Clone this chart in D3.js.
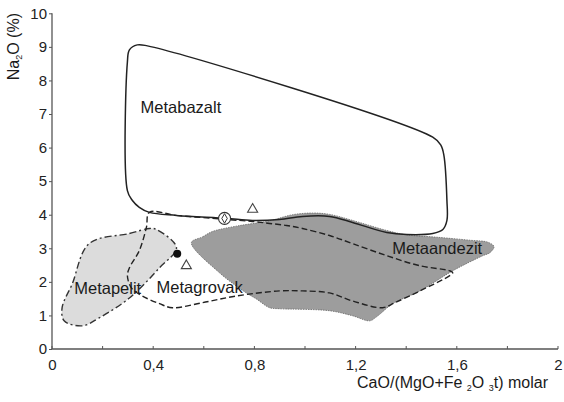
<!DOCTYPE html>
<html>
<head>
<meta charset="utf-8">
<script src="https://cdn.jsdelivr.net/npm/d3@7"></script>
<style>
  html, body { margin: 0; padding: 0; background: #fff; }
  svg { display: block; font-family: "Liberation Sans", Arial, sans-serif; }
</style>
</head>
<body>
<svg id="chart" width="564" height="402"></svg>
<script>
// ---- data (x = CaO/(MgO+Fe2O3t) molar, y = Na2O %) ----
const xTicks = [0, 0.4, 0.8, 1.2, 1.6, 2];
const xTickLabels = ["0", "0,4", "0,8", "1,2", "1,6", "2"];
const xMinorTicks = [0.2, 0.6, 1.0, 1.4, 1.8];
const yTicks = [0, 1, 2, 3, 4, 5, 6, 7, 8, 9, 10];

const metabazalt = [
  [0.298, 8.55], [0.306, 8.91], [0.337, 9.06], [0.377, 9.03], [1.505, 6.31],
  [1.537, 6.07], [1.549, 5.77], [1.561, 4.42], [1.561, 3.83], [1.545, 3.56],
  [1.505, 3.44], [1.402, 3.41], [1.323, 3.47], [1.188, 3.77], [1.097, 3.95],
  [0.990, 3.95], [0.899, 3.86], [0.792, 3.83], [0.689, 3.89], [0.492, 3.98],
  [0.385, 4.07], [0.345, 4.22], [0.317, 4.43], [0.298, 4.72]
];
const metaandezit = [
  [0.551, 3.17], [0.595, 3.34], [0.634, 3.50], [0.729, 3.66], [0.860, 3.82],
  [0.951, 4.00], [1.030, 4.05], [1.097, 4.01], [1.188, 3.83], [1.323, 3.53],
  [1.402, 3.40], [1.521, 3.33], [1.652, 3.24], [1.723, 3.18], [1.747, 3.05],
  [1.731, 2.87], [1.703, 2.78], [1.584, 2.33], [1.454, 1.73], [1.347, 1.35],
  [1.283, 0.96], [1.256, 0.84], [1.188, 0.99], [1.097, 1.14], [0.899, 1.20],
  [0.860, 1.23], [0.808, 1.49], [0.768, 1.67], [0.662, 2.27]
];
const metagrovak = [
  [0.385, 4.07], [0.492, 3.98], [0.689, 3.86], [0.792, 3.80], [0.860, 3.74],
  [0.927, 3.68], [0.990, 3.59], [1.097, 3.38], [1.188, 3.14], [1.323, 2.78],
  [1.454, 2.48], [1.572, 2.33], [1.584, 2.27], [1.454, 1.73], [1.355, 1.38],
  [1.307, 1.23], [1.188, 1.43], [1.097, 1.67], [0.990, 1.73], [0.899, 1.73],
  [0.729, 1.58], [0.595, 1.38], [0.476, 1.23], [0.425, 1.35], [0.357, 1.58],
  [0.314, 1.82], [0.298, 2.18], [0.306, 2.42], [0.345, 2.93], [0.373, 3.62]
];
const metapelit = [
  [0.147, 3.14], [0.306, 3.44], [0.385, 3.59], [0.413, 3.56], [0.492, 3.02],
  [0.425, 2.42], [0.306, 1.52], [0.187, 0.93], [0.120, 0.69], [0.048, 0.84],
  [0.040, 1.23], [0.080, 1.94]
];
const triangles = [[0.793, 4.16], [0.531, 2.48]];
const dots = [[0.495, 2.84]];
const circledDiamonds = [[0.682, 3.89]];

const regionLabels = [
  { name: "Metabazalt",  x: 0.35,  y: 7.2 },
  { name: "Metapelit",   x: 0.088, y: 1.8 },
  { name: "Metagrovak",  x: 0.413, y: 1.85 },
  { name: "Metaandezit", x: 1.345, y: 3.0 }
];

// ---- layout ----
const svg = d3.select("#chart");
const x = d3.scaleLinear().domain([0, 2]).range([52, 558]);
const y = d3.scaleLinear().domain([0, 10]).range([349, 13.3]);
const line = d3.line().x(d => x(d[0])).y(d => y(d[1])).curve(d3.curveCatmullRomClosed.alpha(0.5));

// regions
svg.append("path").datum(metapelit)
  .attr("d", line).attr("fill", "#dcdcdc")
  .attr("stroke", "#333").attr("stroke-width", 1.4)
  .attr("stroke-dasharray", "7,3,2,3");

svg.append("path").datum(metaandezit)
  .attr("d", line).attr("fill", "#9d9d9d")
  .attr("stroke", "#666").attr("stroke-width", 0.8)
  .attr("stroke-dasharray", "1.5,1");

svg.append("path").datum(metabazalt)
  .attr("d", line).attr("fill", "none")
  .attr("stroke", "#222").attr("stroke-width", 1.5);

svg.append("path").datum(metagrovak)
  .attr("d", line).attr("fill", "none")
  .attr("stroke", "#222").attr("stroke-width", 1.4)
  .attr("stroke-dasharray", "6,3");

// markers
svg.selectAll(".tri").data(triangles).enter().append("path")
  .attr("class", "tri")
  .attr("transform", d => `translate(${x(d[0])},${y(d[1])})`)
  .attr("d", d3.symbol().type(d3.symbolTriangle).size(44))
  .attr("fill", "#fff").attr("stroke", "#444").attr("stroke-width", 1.1);

svg.selectAll(".dot").data(dots).enter().append("circle")
  .attr("class", "dot")
  .attr("cx", d => x(d[0])).attr("cy", d => y(d[1])).attr("r", 4)
  .attr("fill", "#111");

const cd = svg.selectAll(".cd").data(circledDiamonds).enter().append("g")
  .attr("class", "cd")
  .attr("transform", d => `translate(${x(d[0])},${y(d[1])})`);
cd.append("circle").attr("r", 6).attr("fill", "#fff").attr("stroke", "#333").attr("stroke-width", 1.1);
cd.append("path").attr("d", d3.symbol().type(d3.symbolDiamond).size(26))
  .attr("fill", "none").attr("stroke", "#333").attr("stroke-width", 1);

// region labels
svg.selectAll(".rl").data(regionLabels).enter().append("text")
  .attr("class", "rl")
  .attr("x", d => x(d.x)).attr("y", d => y(d.y))
  .attr("dy", "0.35em")
  .attr("font-size", 16.5).attr("fill", "#1a1a1a")
  .text(d => d.name);

// axes
const axisColor = "#555";
const xAxis = svg.append("g").attr("transform", `translate(0,${y(0)})`)
  .call(d3.axisBottom(x).tickValues(xTicks).tickFormat((d, i) => xTickLabels[i]).tickSize(0).tickPadding(10));
xAxis.select(".domain").attr("stroke", axisColor).attr("stroke-width", 1.3).attr("d", `M${x(0)},0H${x(2)}`);
xAxis.selectAll("text").attr("font-size", 15).attr("fill", "#222").attr("font-family", "Liberation Sans, Arial, sans-serif");
xAxis.selectAll(".minor").data(xMinorTicks.concat(xTicks)).enter().append("line")
  .attr("class", "minor")
  .attr("x1", d => x(d)).attr("x2", d => x(d)).attr("y1", 0).attr("y2", -3)
  .attr("stroke", axisColor).attr("stroke-width", 1);

const yAxis = svg.append("g").attr("transform", `translate(${x(0)},0)`)
  .call(d3.axisLeft(y).tickValues(yTicks).tickFormat(d3.format("d")).tickSize(3).tickPadding(2));
yAxis.select(".domain").attr("stroke", axisColor).attr("stroke-width", 1.3).attr("d", `M0,${y(0)}V${y(10)}`);
yAxis.selectAll(".tick line").attr("stroke", axisColor);
yAxis.selectAll("text").attr("font-size", 15).attr("fill", "#222").attr("font-family", "Liberation Sans, Arial, sans-serif");

// axis titles
const xt = svg.append("text")
  .attr("x", 548).attr("y", 388).attr("text-anchor", "end")
  .attr("font-size", 16).attr("fill", "#1a1a1a");
xt.append("tspan").text("CaO/(MgO+Fe ");
xt.append("tspan").attr("font-size", 9).attr("dy", 3).text("2");
xt.append("tspan").attr("dy", -3).text("O ");
xt.append("tspan").attr("font-size", 9).attr("dy", 3).text("3");
xt.append("tspan").attr("dy", -3).text("t) molar");

const yt = svg.append("text")
  .attr("transform", "translate(19,13) rotate(-90)")
  .attr("text-anchor", "end")
  .attr("font-size", 16).attr("fill", "#1a1a1a");
yt.append("tspan").text("Na");
yt.append("tspan").attr("font-size", 9).attr("dy", 3).text("2");
yt.append("tspan").attr("dy", -3).text("O (%)");
</script>
</body>
</html>
